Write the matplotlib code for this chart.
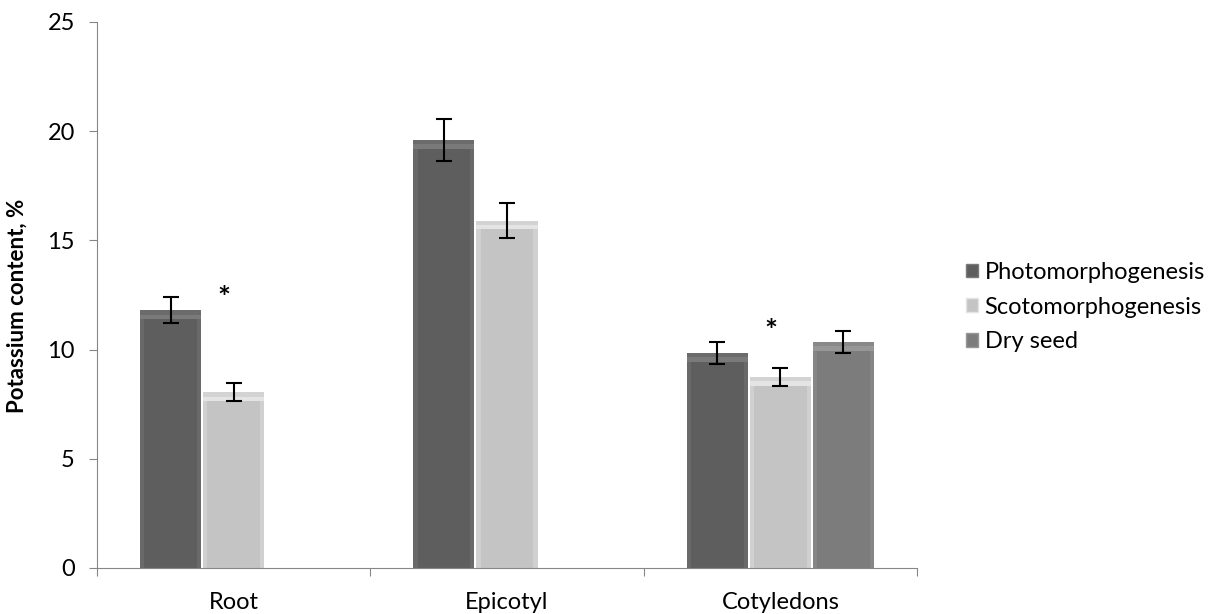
import matplotlib
matplotlib.use("Agg")
import matplotlib.pyplot as plt
from matplotlib.patches import Patch, Rectangle
import numpy as np

categories = ["Root", "Epicotyl", "Cotyledons"]
series = ["Photomorphogenesis", "Scotomorphogenesis", "Dry seed"]
photo = [11.8, 19.6, 9.85]
photo_err = [0.6, 0.95, 0.5]
scoto = [8.05, 15.9, 8.75]
scoto_err = [0.4, 0.8, 0.42]
dry = [np.nan, np.nan, 10.35]
dry_err = [np.nan, np.nan, 0.5]
stars_x = [0, 2]          # category index with asterisk (scoto bar)
stars_y = [12.3, 10.8]
yticks = [0, 5, 10, 15, 20, 25]

colors = ["#5e5e5e", "#c4c4c4", "#7c7c7c"]
highlight = ["#7a7a7a", "#e4e4e4", "#979797"]

plt.rcParams['font.family'] = ['Lato', 'DejaVu Sans']
fig = plt.figure(figsize=(12.16, 6.14), dpi=100)
ax = fig.add_axes([97/1216, 1-568/614, (917-97)/1216, (568-22)/614])

x = np.arange(len(categories))
width = 0.2234
step = 0.2308
data = [(photo, photo_err), (scoto, scoto_err), (dry, dry_err)]
for i, (vals, errs) in enumerate(data):
    pos = x + (i - 1) * step
    ax.bar(pos, vals, width, color=colors[i], edgecolor='none', zorder=2)
    for p, v in zip(pos, vals):
        if np.isnan(v):
            continue
        ax.add_patch(Rectangle((p - width/2, v - 0.4), width, 0.4,
                               facecolor=highlight[i], edgecolor='none', zorder=2.5))
        ax.add_patch(Rectangle((p - width/2, v - 0.2), width, 0.2,
                               facecolor=colors[i], alpha=0.5, edgecolor='none', zorder=2.6))
        ax.add_patch(Rectangle((p - width/2, 0), width*0.07, v - 0.4,
                               facecolor=highlight[i], alpha=0.4, edgecolor='none', zorder=2.5))
        ax.add_patch(Rectangle((p + width/2 - width*0.07, 0), width*0.07, v - 0.4,
                               facecolor=highlight[i], alpha=0.4, edgecolor='none', zorder=2.5))
    ax.errorbar(pos, vals, yerr=errs, fmt='none', ecolor='black', elinewidth=1.5,
                capsize=5.5, capthick=1.5, zorder=3)

for cx, sy in zip(stars_x, stars_y):
    ax.text(cx - 0.035, sy, "*", ha='center', va='center', fontsize=22,
            fontweight='bold', color='black')

ax.set_xlim(-0.5, 2.5)
ax.set_ylim(0, 25)
ax.set_yticks(yticks)
ax.set_yticklabels([str(t) for t in yticks], fontsize=17)
ax.set_xticks([-0.5, 0.5, 1.5, 2.5])
ax.set_xticklabels([])
ax.set_xticks(x, minor=True)
ax.set_xticklabels(categories, minor=True, fontsize=17)
ax.tick_params(axis='x', which='minor', length=0, pad=17)
ax.tick_params(axis='x', which='major', length=6, color='#868686', direction='out')
ax.tick_params(axis='y', length=6, color='#868686', direction='out', pad=10)
for s in ['top', 'right']:
    ax.spines[s].set_visible(False)
for s in ['left', 'bottom']:
    ax.spines[s].set_color('#868686')
ax.set_ylabel("Potassium content, %", fontsize=16, fontweight='bold')
ax.yaxis.set_label_coords(-0.084, 0.48)

handles = [Patch(facecolor=colors[i], edgecolor=highlight[i]) for i in range(3)]
fig.legend(handles, series, loc='center left', bbox_to_anchor=(954/1216, 1-307/614),
           frameon=False, fontsize=17, handlelength=0.5, handleheight=0.5,
           handletextpad=0.3, labelspacing=0.58, borderpad=0)

fig.savefig("out.png", dpi=100)
